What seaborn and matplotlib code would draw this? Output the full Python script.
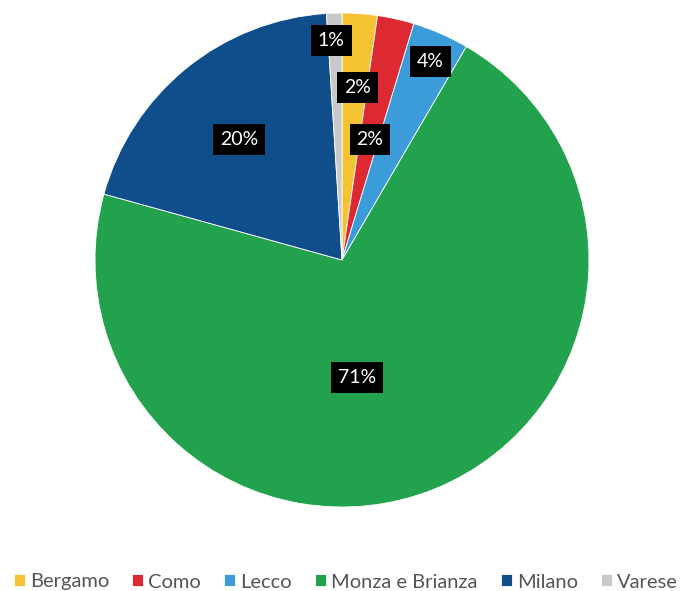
import matplotlib
matplotlib.use("Agg")
import matplotlib.pyplot as plt
import seaborn as sns
import numpy as np

# Province shares (percent)
provinces = ["Bergamo", "Como", "Lecco", "Monza e Brianza", "Milano", "Varese"]
shares = [2.3, 2.4, 3.7, 70.9, 19.7, 1.0]
colors = ["#F4C331", "#DD2A32", "#3C9CDA", "#23A24D", "#104E8B", "#C9C9C9"]

# placement of each percentage label: fraction of the radius and
# angular shift (degrees, clockwise) from the wedge's middle
label_radius = [0.70, 0.50, 0.88, 0.48, 0.64, 0.89]
label_shift = [1.0, 0.5, 0.5, 15.0, -1.5, -1.0]

sns.set_theme(style="white")
plt.rcParams["font.family"] = ["Lato", "DejaVu Sans"]

W, H = 683, 591
fig = plt.figure(figsize=(W / 100, H / 100), dpi=100)
cx, cy, r = 342, 260, 247
ax = fig.add_axes([(cx - r) / W, (H - cy - r) / H, 2 * r / W, 2 * r / H])

wedges, texts, autotexts = ax.pie(
    shares,
    colors=colors,
    startangle=90,
    counterclock=False,
    autopct="%.0f%%",
    wedgeprops=dict(linewidth=0.6, edgecolor="white"),
    textprops=dict(color="white", fontsize=14),
)

for w, t, frac, shift in zip(wedges, autotexts, label_radius, label_shift):
    mid = np.deg2rad((w.theta1 + w.theta2) / 2 - shift)
    t.set_position((frac * np.cos(mid), frac * np.sin(mid)))
    t.set_bbox(dict(facecolor="black", edgecolor="none", boxstyle="square,pad=0.36"))

ax.set_xlim(-1, 1)
ax.set_ylim(-1, 1)
ax.set_aspect("equal")
ax.axis("off")

fig.legend(
    wedges,
    provinces,
    loc="center",
    bbox_to_anchor=(346 / W, 1 - 582 / H),
    ncol=6,
    frameon=False,
    fontsize=14.5,
    handlelength=0.55,
    handleheight=0.55,
    handletextpad=0.25,
    columnspacing=1.15,
    borderpad=0.2,
    labelcolor="#555555",
)

fig.savefig("out.png", dpi=100)
